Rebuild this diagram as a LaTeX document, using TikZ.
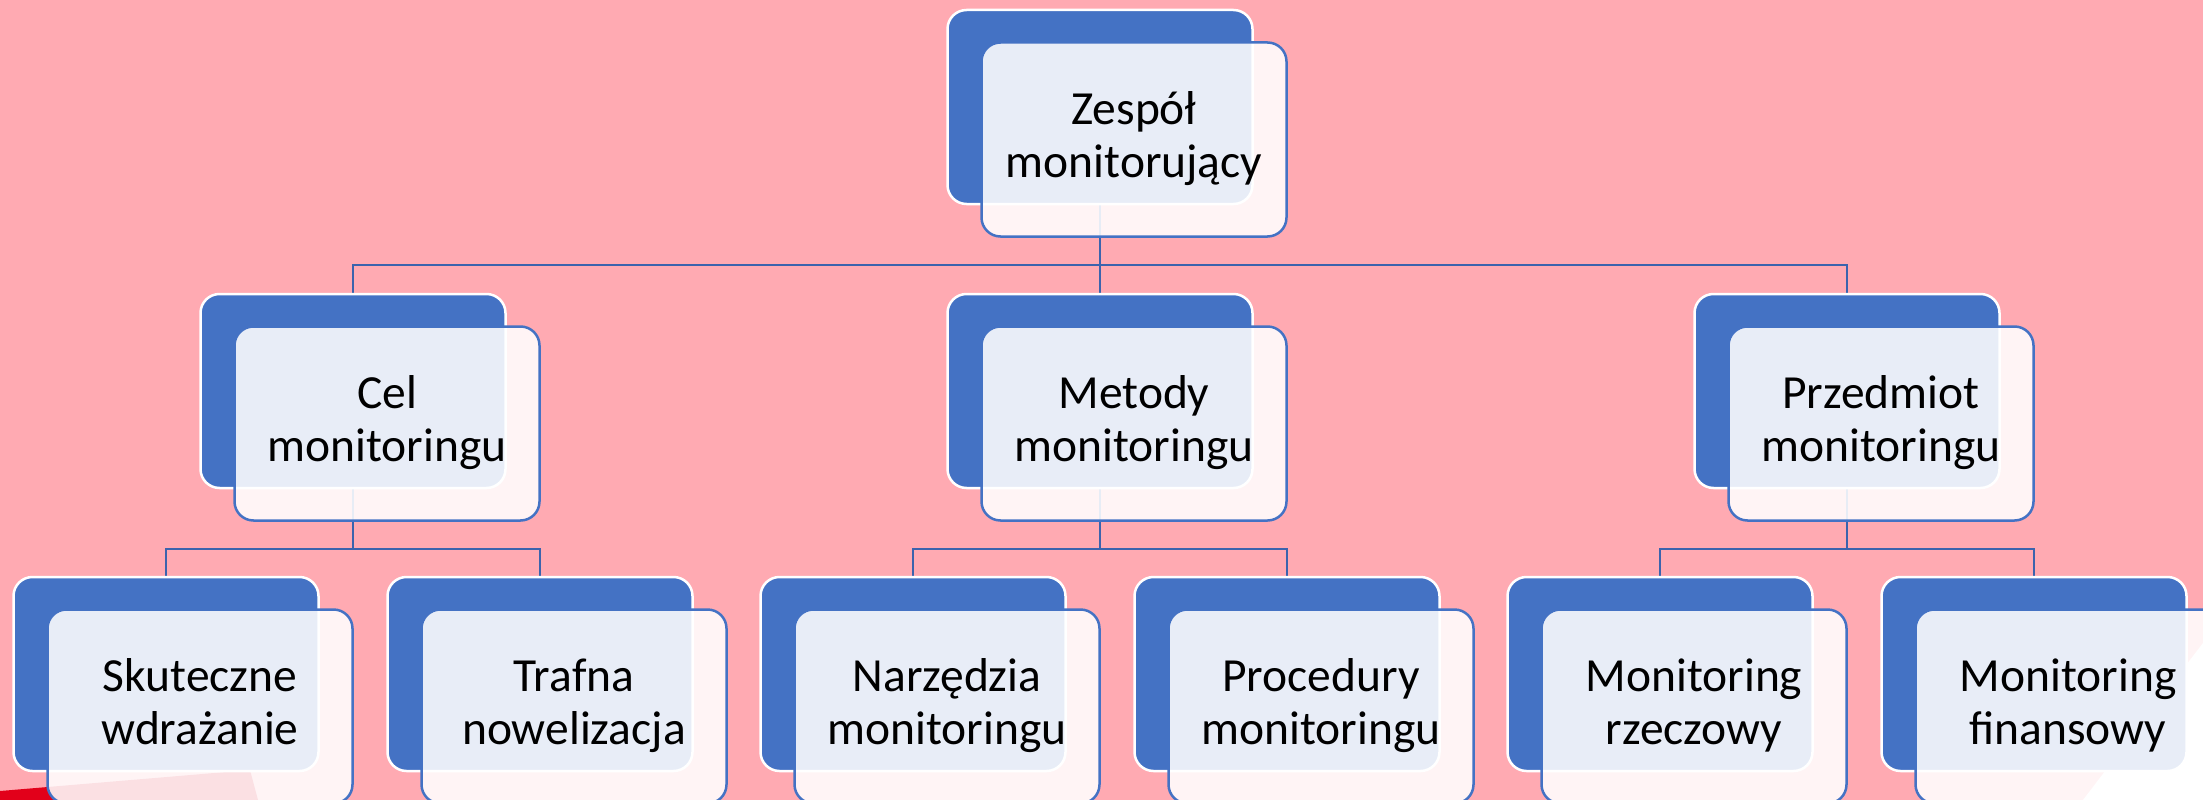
\documentclass[tikz,border=0pt]{standalone}
\usepackage{fontspec}
\setmainfont{Carlito}
\usetikzlibrary{calc}
\definecolor{slidepink}{HTML}{FFAAB2}
\definecolor{accentblue}{HTML}{4472C4}
\definecolor{linkblue}{HTML}{3B63AD}
\definecolor{stripred}{HTML}{E2001A}
\pgfdeclarelayer{scenery}
\pgfdeclarelayer{links}
\pgfsetlayers{scenery,links,main}

\tikzset{
  backbox/.style={draw=white, line width=2.5pt, fill=accentblue,
    rounded corners=19pt, minimum width=305pt, minimum height=194pt, inner sep=0pt},
  frontbox/.style={draw=accentblue, line width=2.5pt, fill=white, fill opacity=0.88,
    text opacity=1, rounded corners=19pt, minimum width=305pt, minimum height=194pt,
    inner sep=0pt, align=center, text=black, font=\fontsize{47.5}{53}\selectfont},
  link/.style={draw=linkblue, line width=2.5pt}
}

% a blue back card with a translucent white card laid over it, offset down-right
\newcommand\orgbox[4]{%
  \node[backbox] (#1-b) at (#2,#3) {};
  \node[frontbox] (#1) at ([shift={(34,32.5)}]#1-b.center)
    {\rule{0pt}{.75em}#4\rule[-.25em]{0pt}{.25em}};
}

\begin{document}
\begin{tikzpicture}[x=1pt,y=-1pt]
\useasboundingbox (0,0) rectangle (2203,800);

\begin{pgfonlayer}{scenery}
  \fill[slidepink] (0,0) rectangle (2203,800);
  \fill[stripred] (0,791) -- (250,770) -- (258,800) -- (0,800) -- cycle;
  \fill[white] (2203,643) -- (2203,800) -- (2083,800) -- cycle;
\end{pgfonlayer}

% level 1
\orgbox{zesp}{1100}{107}{Zespół\\monitorujący}
% level 2
\orgbox{cel}{353}{391}{Cel\\monitoringu}
\orgbox{met}{1100}{391}{Metody\\monitoringu}
\orgbox{prz}{1847}{391}{Przedmiot\\monitoringu}
% level 3
\orgbox{sku}{166}{674}{Skuteczne\\wdrażanie}
\orgbox{tra}{540}{674}{Trafna\\nowelizacja}
\orgbox{nar}{913}{674}{Narzędzia\\monitoringu}
\orgbox{pro}{1287}{674}{Procedury\\monitoringu}
\orgbox{rze}{1660}{674}{Monitoring\\rzeczowy}
\orgbox{fin}{2034}{674}{Monitoring\\finansowy}

\coordinate (bus1) at (0,265);
\coordinate (bus2) at (0,549);

\begin{pgfonlayer}{links}
  \foreach \ch in {cel,met,prz}
    \draw[link] (zesp-b.center) -- (zesp-b.center |- bus1) -| (\ch-b.center);
  \foreach \ch in {sku,tra}
    \draw[link] (cel-b.center) -- (cel-b.center |- bus2) -| (\ch-b.center);
  \foreach \ch in {nar,pro}
    \draw[link] (met-b.center) -- (met-b.center |- bus2) -| (\ch-b.center);
  \foreach \ch in {rze,fin}
    \draw[link] (prz-b.center) -- (prz-b.center |- bus2) -| (\ch-b.center);
\end{pgfonlayer}
\end{tikzpicture}
\end{document}
